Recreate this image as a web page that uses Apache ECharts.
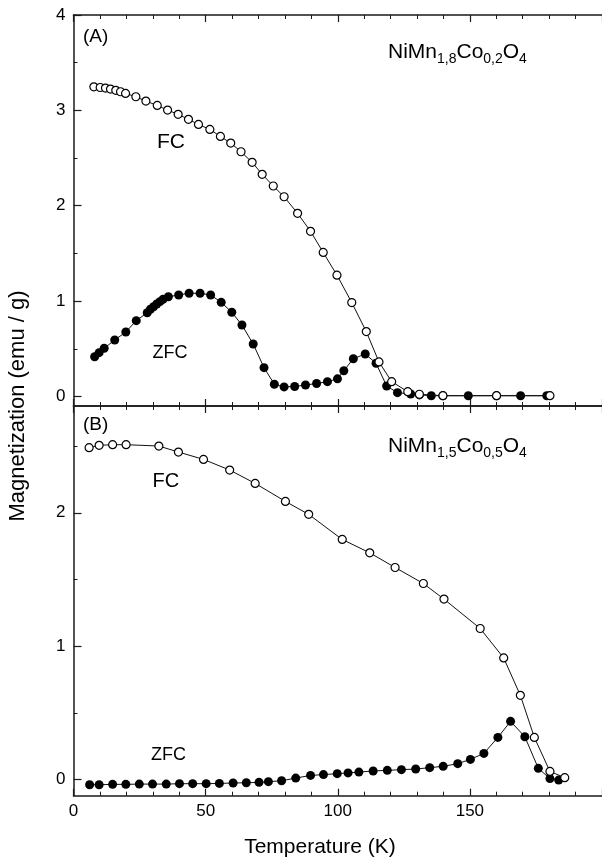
<!DOCTYPE html>
<html>
<head>
<meta charset="utf-8">
<script src="https://cdn.jsdelivr.net/npm/echarts@6/dist/echarts.min.js"></script>
<style>
html,body{margin:0;padding:0;background:#fff;}
#chart{width:602px;height:859px;}
</style>
</head>
<body>
<div id="chart"></div>
<script>
// ---- Data ----
// Panel A: NiMn1,8Co0,2O4
var aFC_T = [7.7,10.1,12.1,14.0,16.0,17.8,19.7,23.6,27.4,31.7,35.6,39.6,43.5,47.3,51.6,55.6,59.5,63.4,67.6,71.4,75.6,79.7,84.8,89.7,94.5,99.7,105.3,110.8,115.6,120.4,126.5,130.9,139.8,160.1,180.3];
var aFC_M = [3.247,3.24,3.234,3.223,3.21,3.195,3.178,3.143,3.097,3.052,3.003,2.958,2.906,2.853,2.80,2.727,2.657,2.566,2.455,2.329,2.207,2.094,1.92,1.732,1.51,1.272,0.985,0.68,0.362,0.155,0.05,0.023,0.008,0.008,0.008];
var aZFC_T = [8.0,9.7,11.6,15.6,19.8,23.75,27.9,29.1,30.3,31.5,32.7,33.9,35.9,39.8,43.75,47.9,51.9,55.9,59.9,63.75,68.0,72.1,76.0,79.7,83.7,87.8,92.0,96.1,99.9,102.3,105.9,110.4,114.5,118.5,122.6,127.6,130.9,135.4,139.8,149.4,160.1,169.2,179.1];
var aZFC_M = [0.417,0.459,0.505,0.592,0.676,0.795,0.878,0.914,0.941,0.970,0.994,1.019,1.046,1.064,1.082,1.082,1.064,0.987,0.883,0.749,0.55,0.302,0.128,0.10,0.105,0.12,0.136,0.155,0.185,0.27,0.396,0.445,0.348,0.11,0.04,0.026,0.016,0.008,0.008,0.008,0.008,0.008,0.008];
// Panel B: NiMn1,5Co0,5O4
var bFC_T = [5.9,9.7,14.8,19.9,32.3,39.7,49.2,59.1,68.75,80.2,89.0,101.7,112.1,121.7,132.4,140.2,153.9,162.8,169.1,174.4,180.3,185.9];
var bFC_M = [2.488,2.505,2.51,2.51,2.50,2.455,2.40,2.32,2.22,2.085,1.988,1.80,1.70,1.59,1.47,1.353,1.133,0.912,0.632,0.317,0.062,0.015];
var bZFC_T = [6.1,9.7,14.8,19.8,24.9,29.9,35.1,40.1,45.1,50.2,55.2,60.4,65.4,70.2,73.75,78.75,84.1,89.7,94.6,99.8,103.9,108.0,113.4,118.75,124.1,129.5,134.8,139.9,145.4,150.2,155.3,160.6,165.4,170.8,175.9,180.3,183.6];
var bZFC_M = [-0.038,-0.038,-0.035,-0.035,-0.033,-0.033,-0.033,-0.03,-0.03,-0.03,-0.028,-0.025,-0.023,-0.02,-0.015,-0.008,0.012,0.032,0.038,0.045,0.051,0.057,0.065,0.07,0.075,0.08,0.09,0.10,0.12,0.152,0.197,0.317,0.437,0.322,0.085,0.008,-0.003];

// Axis ticks / labels
var xMin = 0, xMax = 200, xMajor = 50, xMinorSplit = 5;
var aYMin = -0.1, aYMax = 4, aYMajor = [0,1,2,3,4], aYMinor = [0.5,1.5,2.5,3.5];
var bYMin = -0.12, bYMax = 2.8, bYMajor = [0,1,2], bYMinor = [0.5,1.5,2.5];

function pairs(xs, ys){ return xs.map(function(x,i){ return [x, ys[i]]; }); }

var FONT = '"Liberation Sans", Arial, Helvetica, sans-serif';
var AX = '#1a1a1a';

function xAxis(grid, pos, showLabels){
  return {
    type:'value', gridIndex:grid, position:pos, min:xMin, max:xMax, interval:xMajor,
    axisLine:{show:true, onZero:false, lineStyle:{color:AX, width:1.5}},
    axisTick:{show:true, inside:true, length:7, lineStyle:{color:AX, width:1.2}},
    minorTick:{show:true, splitNumber:xMinorSplit, length:4, lineStyle:{color:AX, width:1}},
    axisLabel:{show:showLabels, color:'#000', fontSize:17, fontFamily:FONT, margin:7, showMaxLabel:false},
    splitLine:{show:false}, minorSplitLine:{show:false}
  };
}
function yMajorAxis(grid, mn, mx, major){
  return {
    type:'value', gridIndex:grid, position:'left', min:mn, max:mx,
    axisLine:{show:true, onZero:false, lineStyle:{color:AX, width:1.5}},
    axisTick:{show:true, inside:true, length:8, customValues:major, lineStyle:{color:AX, width:1.2}},
    axisLabel:{show:true, customValues:major, color:'#000', fontSize:17, fontFamily:FONT, margin:8},
    splitLine:{show:false}
  };
}
function yMinorAxis(grid, mn, mx, minor){
  return {
    type:'value', gridIndex:grid, position:'left', min:mn, max:mx,
    axisLine:{show:false, onZero:false},
    axisTick:{show:true, inside:true, length:4, customValues:minor, lineStyle:{color:AX, width:1}},
    axisLabel:{show:false},
    splitLine:{show:false}
  };
}

var openStyle = {color:'#fff', borderColor:'#000', borderWidth:1.2};
var fillStyle = {color:'#000', borderColor:'#000', borderWidth:0};
function series(name, xi, yi, data, open){
  return {
    type:'line', name:name, xAxisIndex:xi, yAxisIndex:yi, data:data,
    symbol:'circle', symbolSize: open ? 8 : 9, showAllSymbol:true,
    itemStyle: open ? openStyle : fillStyle,
    lineStyle:{color:'#111', width:1},
    emphasis:{disabled:true}, z: open ? 3 : 2
  };
}

function txt(x, y, text, size, extra){
  var st = {text:text, font:size+'px '+FONT, fill:'#000', align:'left', verticalAlign:'middle', textAlign:'left', textVerticalAlign:'middle'};
  if (extra) for (var k in extra) st[k] = extra[k];
  return {type:'text', x:x, y:y, style:st, z:10};
}
var subRich = {
  m:{fontSize:21, fontFamily:FONT, lineHeight:28, color:'#000'},
  s:{fontSize:14, fontFamily:FONT, lineHeight:14, verticalAlign:'bottom', color:'#000'}
};
function formula(x, y, a, b){
  return {type:'text', x:x, y:y, z:10, style:{
    text:'{m|NiMn}{s|'+a+'}{m|Co}{s|'+b+'}{m|O}{s|4}', rich:subRich,
    align:'left', verticalAlign:'top', textAlign:'left', textVerticalAlign:'top', fill:'#000'
  }};
}

var chart = echarts.init(document.getElementById('chart'), null, {renderer:'canvas'});
chart.setOption({
  animation:false,
  backgroundColor:'#fff',
  grid:[
    {left:73.5, right:-31.5, top:15, height:391, containLabel:false},
    {left:73.5, right:-31.5, top:406, height:389.7, containLabel:false}
  ],
  xAxis:[ xAxis(0,'bottom',false), xAxis(0,'top',false), xAxis(1,'bottom',true), xAxis(1,'top',false) ],
  yAxis:[ yMajorAxis(0,aYMin,aYMax,aYMajor), yMinorAxis(0,aYMin,aYMax,aYMinor),
          yMajorAxis(1,bYMin,bYMax,bYMajor), yMinorAxis(1,bYMin,bYMax,bYMinor) ],
  series:[
    series('A ZFC',0,0,pairs(aZFC_T,aZFC_M),false),
    series('A FC',0,0,pairs(aFC_T,aFC_M),true),
    series('B ZFC',2,2,pairs(bZFC_T,bZFC_M),false),
    series('B FC',2,2,pairs(bFC_T,bFC_M),true)
  ],
  graphic:[
    txt(83, 36.4, '(A)', 19),
    formula(388, 38, '1,8', '0,2'),
    txt(157, 142.7, 'FC', 21),
    txt(152.5, 353.1, 'ZFC', 18),
    txt(83, 424.4, '(B)', 19),
    formula(388, 432, '1,5', '0,5'),
    txt(152.5, 481.4, 'FC', 20),
    txt(151, 755.5, 'ZFC', 18),
    txt(320, 847, 'Temperature (K)', 21, {align:'center', textAlign:'center'}),
    {type:'text', x:18, y:406, rotation:Math.PI/2, z:10, style:{text:'Magnetization (emu / g)', font:'22px '+FONT, fill:'#000', align:'center', verticalAlign:'middle', textAlign:'center', textVerticalAlign:'middle'}}
  ]
});
</script>
</body>
</html>
